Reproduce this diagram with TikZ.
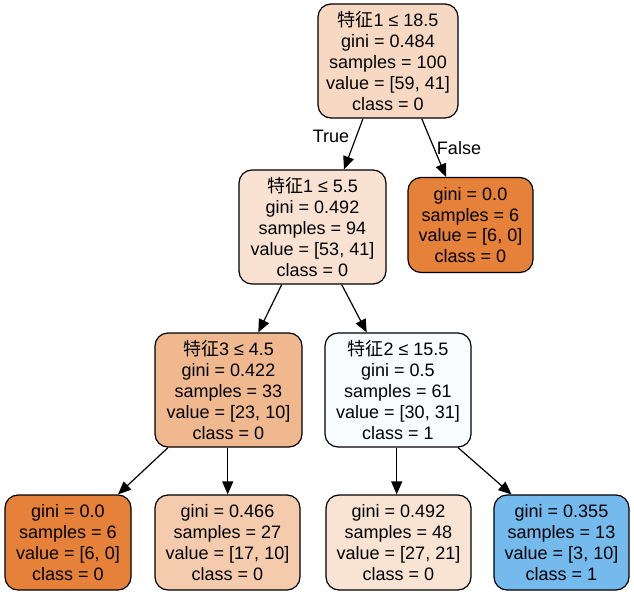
\documentclass[tikz,border=0pt]{standalone}
\usepackage{fontspec}
\setmainfont{Liberation Sans}
\newfontfamily\cjk{Noto Sans CJK SC}
\usetikzlibrary{arrows.meta}
\definecolor{cRoot}{HTML}{F7D9C3}
\definecolor{cNa}{HTML}{F9E2D2}
\definecolor{cNb}{HTML}{F0B88F}
\definecolor{cNc}{HTML}{F9FCFE}
\definecolor{cPure}{HTML}{E58139}
\definecolor{cLb}{HTML}{F4CBAD}
\definecolor{cLc}{HTML}{F9E3D3}
\definecolor{cLd}{HTML}{74BAED}
\begin{document}
\begin{tikzpicture}[x=1pt,y=-1pt,
  tn/.style={draw=black, line width=1.2pt, rounded corners=13pt, align=center,
    font=\fontsize{18}{20.8}\selectfont, inner sep=0pt, minimum height=114pt},
  leafbox/.style={tn, minimum height=95pt},
  edgearrow/.style={-{Triangle[length=13pt,width=11pt]}, line width=1.2pt, draw=black},
  lbl/.style={font=\fontsize{18}{20.8}\selectfont, inner sep=0pt}]
\useasboundingbox (0,0) rectangle (634,596);
\node[tn, fill=cRoot, minimum width=140pt] (root) at (388,61)
  {{\cjk 特征}1 ≤ 18.5\\gini = 0.484\\samples = 100\\value = [59, 41]\\class = 0};
\node[tn, fill=cNa, minimum width=147pt] (n2) at (312.5,227)
  {{\cjk 特征}1 ≤ 5.5\\gini = 0.492\\samples = 94\\value = [53, 41]\\class = 0};
\node[leafbox, fill=cPure, minimum width=125pt] (fl) at (470.5,225)
  {gini = 0.0\\samples = 6\\value = [6, 0]\\class = 0};
\node[tn, fill=cNb, minimum width=147pt] (l2a) at (228.5,390)
  {{\cjk 特征}3 ≤ 4.5\\gini = 0.422\\samples = 33\\value = [23, 10]\\class = 0};
\node[tn, fill=cNc, minimum width=146pt] (l2b) at (398,390)
  {{\cjk 特征}2 ≤ 15.5\\gini = 0.5\\samples = 61\\value = [30, 31]\\class = 1};
\node[leafbox, fill=cPure, minimum width=126pt] (la) at (68,542.5)
  {gini = 0.0\\samples = 6\\value = [6, 0]\\class = 0};
\node[leafbox, fill=cLb, minimum width=145pt] (lb) at (227.5,542.5)
  {gini = 0.466\\samples = 27\\value = [17, 10]\\class = 0};
\node[leafbox, fill=cLc, minimum width=145pt] (lc) at (398.5,542.5)
  {gini = 0.492\\samples = 48\\value = [27, 21]\\class = 0};
\node[leafbox, fill=cLd, minimum width=135pt] (ld) at (561.5,542.5)
  {gini = 0.355\\samples = 13\\value = [3, 10]\\class = 1};
\draw[edgearrow] ([xshift=-25pt]root.south) -- ([xshift=31.5pt]n2.north);
\draw[edgearrow] ([xshift=33.7pt]root.south) -- ([xshift=-24.5pt]fl.north);
\draw[edgearrow] ([xshift=-30.8pt]n2.south) -- ([xshift=29.8pt]l2a.north);
\draw[edgearrow] ([xshift=29.2pt]n2.south) -- ([xshift=-31.3pt]l2b.north);
\draw[edgearrow] ([xshift=-60.5pt]l2a.south) -- ([xshift=50pt]la.north);
\draw[edgearrow] ([xshift=-0.8pt]l2a.south) -- ([xshift=0.2pt]lb.north);
\draw[edgearrow] ([xshift=-1.3pt]l2b.south) -- ([xshift=-1.8pt]lc.north);
\draw[edgearrow] ([xshift=60pt]l2b.south) -- ([xshift=-50pt]ld.north);
\node[lbl] (ltrue) at (331,136) {True};
\node[lbl] (lfalse) at (459,148.5) {False};
\end{tikzpicture}
\end{document}
